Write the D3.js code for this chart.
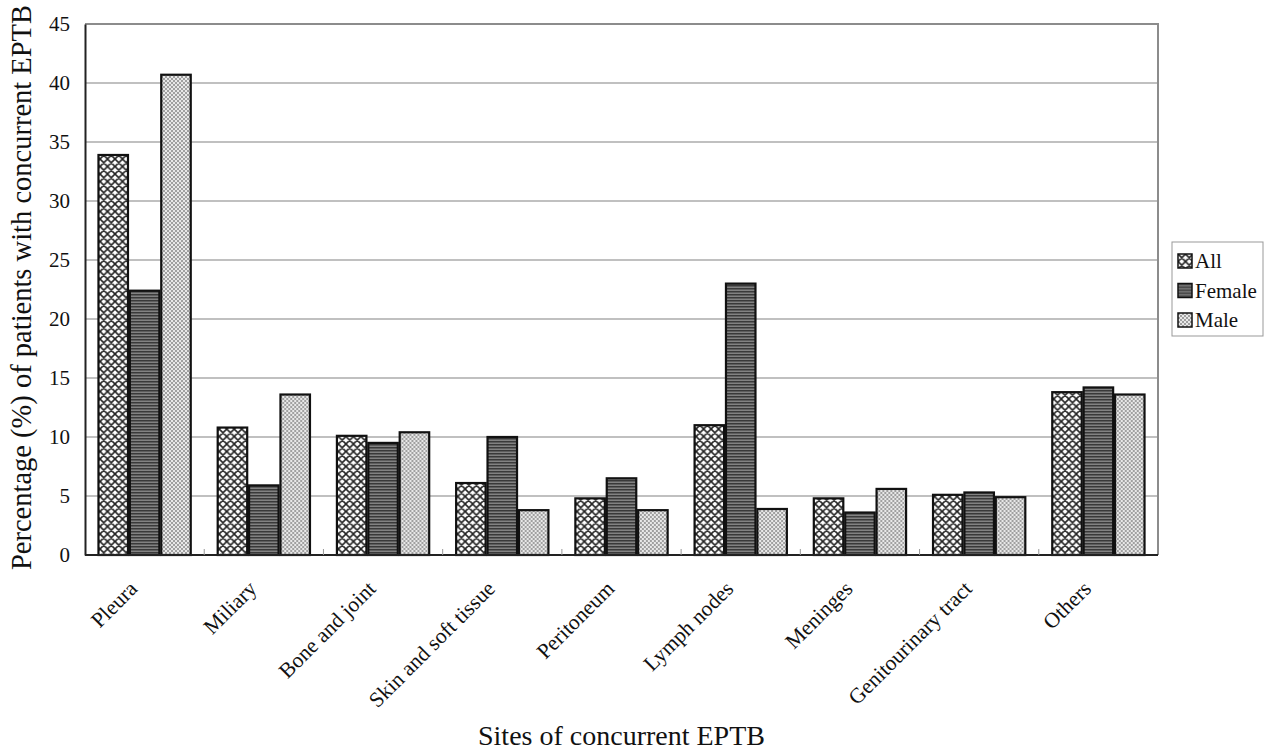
<!DOCTYPE html>
<html>
<head>
<meta charset="utf-8">
<script src="https://cdn.jsdelivr.net/npm/d3@7"></script>
<style>
  html, body { margin: 0; padding: 0; background: #fff; }
  svg text { font-family: "Liberation Serif", "Times New Roman", serif; fill: #111; }
</style>
</head>
<body>
<svg id="chart" width="1265" height="754"></svg>
<script>
// Sites of concurrent extrapulmonary TB, share of patients (%) by group
const sites = ["Pleura", "Miliary", "Bone and joint", "Skin and soft tissue", "Peritoneum",
               "Lymph nodes", "Meninges", "Genitourinary tract", "Others"];
const groups = ["All", "Female", "Male"];
const allValues    = [33.9, 10.8, 10.1, 6.1, 4.8, 11.0, 4.8, 5.1, 13.8];
const femaleValues = [22.4, 5.9, 9.5, 10.0, 6.5, 23.0, 3.6, 5.3, 14.2];
const maleValues   = [40.7, 13.6, 10.4, 3.8, 3.8, 3.9, 5.6, 4.9, 13.6];
const yTicks = [0, 5, 10, 15, 20, 25, 30, 35, 40, 45];

const seriesValues = { All: allValues, Female: femaleValues, Male: maleValues };
const rows = sites.map((s, i) => ({ site: s, values: groups.map(g => ({ group: g, value: seriesValues[g][i] })) }));

const svg = d3.select("#chart");
const margin = { left: 85, right: 107, top: 24, bottom: 199 };
const W = 1265, H = 754;
const plotW = W - margin.left - margin.right;
const plotH = H - margin.top - margin.bottom;

// Fill patterns for the three groups
const defs = svg.append("defs");
const pAll = defs.append("pattern").attr("id", "pat-all").attr("patternUnits", "userSpaceOnUse")
  .attr("width", 7.5).attr("height", 7.5);
pAll.append("rect").attr("width", 7.5).attr("height", 7.5).attr("fill", "#fff");
pAll.append("path").attr("d", "M0,0 L7.5,7.5 M7.5,0 L0,7.5 M-1,6.5 L1,8.5 M6.5,-1 L8.5,1 M-1,1 L1,-1 M6.5,8.5 L8.5,6.5")
  .attr("stroke", "#222").attr("stroke-width", 1.6);

const pFem = defs.append("pattern").attr("id", "pat-female").attr("patternUnits", "userSpaceOnUse")
  .attr("width", 6).attr("height", 3);
pFem.append("rect").attr("width", 6).attr("height", 3).attr("fill", "#828282");
pFem.append("rect").attr("width", 6).attr("height", 1.5).attr("fill", "#3a3a3a");

const pMale = defs.append("pattern").attr("id", "pat-male").attr("patternUnits", "userSpaceOnUse")
  .attr("width", 4).attr("height", 4);
pMale.append("rect").attr("width", 4).attr("height", 4).attr("fill", "#e8e8e8");
pMale.append("rect").attr("width", 2).attr("height", 2).attr("fill", "#a0a0a0");
pMale.append("rect").attr("x", 2).attr("y", 2).attr("width", 2).attr("height", 2).attr("fill", "#a0a0a0");

const fills = { All: "url(#pat-all)", Female: "url(#pat-female)", Male: "url(#pat-male)" };

const x0 = d3.scaleBand().domain(sites).range([0, plotW]).padding(0);
const bw = x0.bandwidth();
const x1 = d3.scaleBand().domain(groups).range([bw * 0.113, bw * 0.887]).paddingInner(0.06);
const y = d3.scaleLinear().domain([0, 45]).range([plotH, 0]);

const g = svg.append("g").attr("transform", `translate(${margin.left},${margin.top})`);

// Gridlines
g.append("g").selectAll("line").data(yTicks.filter(t => t > 0)).join("line")
  .attr("x1", 0).attr("x2", plotW)
  .attr("y1", d => y(d)).attr("y2", d => y(d))
  .attr("stroke", "#ababab").attr("stroke-width", 1.5);

// Plot frame (top and right edges)
g.append("path").attr("d", `M0,0 H${plotW} V${plotH}`)
  .attr("fill", "none").attr("stroke", "#8c8c8c").attr("stroke-width", 2);

// Bars
const grp = g.append("g").selectAll("g").data(rows).join("g")
  .attr("transform", d => `translate(${x0(d.site)},0)`);
grp.selectAll("rect").data(d => d.values).join("rect")
  .attr("x", d => x1(d.group))
  .attr("width", x1.bandwidth())
  .attr("y", d => y(d.value))
  .attr("height", d => plotH - y(d.value))
  .attr("fill", d => fills[d.group])
  .attr("stroke", "#111").attr("stroke-width", 2.2);

// Y axis
const yAxis = g.append("g").call(d3.axisLeft(y).tickValues(yTicks).tickSize(0).tickPadding(15).tickFormat(d3.format("d")));
yAxis.select(".domain").attr("stroke", "#222").attr("stroke-width", 2);
yAxis.selectAll("text").attr("font-size", 21).attr("fill", "#111")
  .style("font-family", '"Liberation Serif", serif');

// X axis with ticks between categories
const xAxis = g.append("g").attr("transform", `translate(0,${plotH})`);
xAxis.append("line").attr("x1", 0).attr("x2", plotW).attr("stroke", "#222").attr("stroke-width", 2);
xAxis.selectAll("line.tk").data(d3.range(1, sites.length)).join("line").attr("class", "tk")
  .attr("x1", d => d * bw).attr("x2", d => d * bw).attr("y1", 0).attr("y2", -6)
  .attr("stroke", "#999").attr("stroke-width", 1);
xAxis.selectAll("text").data(sites).join("text")
  .attr("transform", d => `translate(${x0(d) + bw / 2 - 6},${35}) rotate(-45)`)
  .attr("text-anchor", "end")
  .attr("font-size", 21.5)
  .text(d => d);

// Axis titles
svg.append("text")
  .attr("transform", `translate(31,${margin.top + plotH / 2 - 2}) rotate(-90)`)
  .attr("text-anchor", "middle").attr("font-size", 28.5)
  .text("Percentage (%) of patients with concurrent EPTB");
svg.append("text")
  .attr("x", margin.left + plotW / 2).attr("y", 745)
  .attr("text-anchor", "middle").attr("font-size", 28)
  .text("Sites of concurrent EPTB");

// Legend
const lg = svg.append("g").attr("transform", "translate(1172,242)");
lg.append("rect").attr("width", 91).attr("height", 94).attr("fill", "#fff")
  .attr("stroke", "#999").attr("stroke-width", 1);
const items = lg.selectAll("g").data(groups).join("g")
  .attr("transform", (d, i) => `translate(6,${12 + i * 29.5})`);
items.append("rect").attr("width", 14).attr("height", 14)
  .attr("fill", d => fills[d]).attr("stroke", "#111").attr("stroke-width", 1.5);
items.append("text").attr("x", 17).attr("y", 14).attr("font-size", 21).text(d => d);
</script>
</body>
</html>
